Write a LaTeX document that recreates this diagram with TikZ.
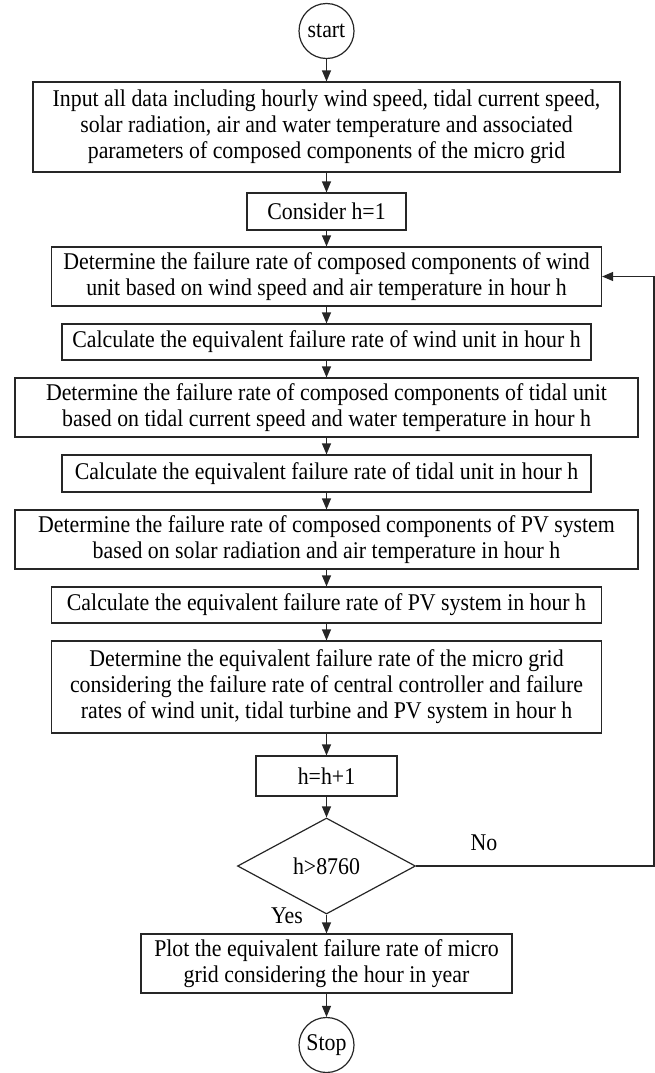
\documentclass[tikz,border=0pt]{standalone}
\usepackage{fontspec}
\setmainfont{Liberation Serif}[FakeStretch=0.91]
\usetikzlibrary{shapes.geometric,arrows.meta}
\begin{document}
\begin{tikzpicture}[x=1bp,y=-1bp,
  txt/.style={font=\fontsize{24bp}{26bp}\selectfont},
  box/.style={txt, draw=black!85, line width=1.2bp, align=center, inner sep=0pt, rectangle},
  term/.style={txt, draw=black!85, line width=1.2bp, circle, inner sep=0pt, minimum size=55bp},
  decision/.style={txt, draw=black!85, line width=1.2bp, diamond, inner sep=0pt, aspect=1.85, minimum width=178bp, minimum height=96bp},
  arr/.style={draw=black!85, line width=1.2bp, -{Triangle[length=11bp,width=9bp]}}
]
\useasboundingbox (0,0) rectangle (655,1073);

\node[term] (start) at (326.5,31) {start};
\node[box, minimum width=587bp, minimum height=90bp] (input) at (326.5,127)
  {Input all data including hourly wind speed, tidal current speed,\\
   solar radiation, air and water temperature and associated\\
   parameters of composed components of the micro grid};
\node[box, minimum width=159bp, minimum height=37bp] (cons) at (326.5,211.5) {Consider h=1};
\node[box, minimum width=550bp, minimum height=59bp] (wind) at (326.5,276.5)
  {Determine the failure rate of composed components of wind\\
   unit based on wind speed and air temperature in hour h};
\node[box, minimum width=529bp, minimum height=36bp] (cwind) at (326.5,342)
  {Calculate the equivalent failure rate of wind unit in hour h};
\node[box, minimum width=623bp, minimum height=59bp] (tidal) at (326.5,407.5)
  {Determine the failure rate of composed components of tidal unit\\
   based on tidal current speed and water temperature in hour h};
\node[box, minimum width=529bp, minimum height=37bp] (ctidal) at (326.5,473.5)
  {Calculate the equivalent failure rate of tidal unit in hour h};
\node[box, minimum width=623bp, minimum height=59bp] (pv) at (326.5,539.5)
  {Determine the failure rate of composed components of PV system\\
   based on solar radiation and air temperature in hour h};
\node[box, minimum width=550bp, minimum height=36bp] (cpv) at (326.5,605)
  {Calculate the equivalent failure rate of PV system in hour h};
\node[box, minimum width=550bp, minimum height=92bp] (micro) at (326.5,687)
  {Determine the equivalent failure rate of the micro grid\\
   considering the failure rate of central controller and failure\\
   rates of wind unit, tidal turbine and PV system in hour h};
\node[box, minimum width=141bp, minimum height=40bp] (inc) at (326.5,776) {h=h+1};
\node[decision] (dec) at (326.5,866) {h>8760};
\node[box, minimum width=371bp, minimum height=59bp] (plot) at (326.5,963.5)
  {Plot the equivalent failure rate of micro\\
   grid considering the hour in year};
\node[term] (stop) at (326.5,1045) {Stop};

\node[txt, inner sep=0pt] (no) at (484,843) {No};
\node[txt, inner sep=0pt] (yes) at (287,916) {Yes};

\coordinate (loopc) at (654,866);

\draw[arr] (start) -- (input);
\draw[arr] (input) -- (cons);
\draw[arr] (cons) -- (wind);
\draw[arr] (wind) -- (cwind);
\draw[arr] (cwind) -- (tidal);
\draw[arr] (tidal) -- (ctidal);
\draw[arr] (ctidal) -- (pv);
\draw[arr] (pv) -- (cpv);
\draw[arr] (cpv) -- (micro);
\draw[arr] (micro) -- (inc);
\draw[arr] (inc) -- (dec);
\draw[arr] (dec) -- (plot);
\draw[arr] (plot) -- (stop);
\draw[arr] (dec.east) -- (loopc) |- (wind.east);
\end{tikzpicture}
\end{document}
